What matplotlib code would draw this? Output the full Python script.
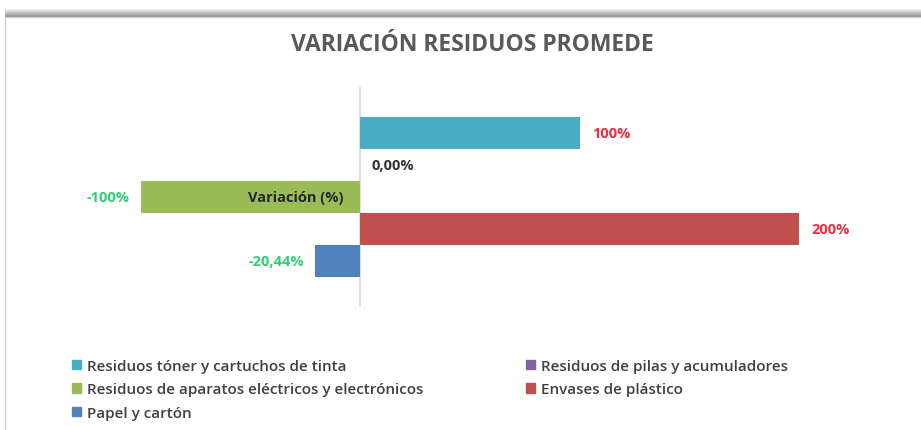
import matplotlib.pyplot as plt
from matplotlib.patches import Rectangle, Patch

plt.rcParams['font.family'] = ['Open Sans', 'DejaVu Sans']

# data
series = ['Residuos tóner y cartuchos de tinta',
          'Residuos de pilas y acumuladores',
          'Residuos de aparatos eléctricos y electrónicos',
          'Envases de plástico',
          'Papel y cartón']
values = [100, 0, -100, 200, -20.44]
labels = ['100%', '0,00%', '-100%', '200%', '-20,44%']
colors = ['#4BACC6', '#8064A2', '#9BBB59', '#C0504D', '#4F81BD']
label_colors = ['#E8303F', '#333333', '#33CC77', '#E8303F', '#33CC77']

W, H = 921, 431
fig = plt.figure(figsize=(W / 100, H / 100), dpi=100)

# chart frame with shadow at the top
for k in range(8):
    fig.patches.append(Rectangle((5 / W, 1 - (11 + k) / H), 1, 1 / H,
                                 transform=fig.transFigure,
                                 color='#808080', alpha=0.15 + 0.1 * k, lw=0))
fig.patches.append(Rectangle((5 / W, -0.01), 1, 1 - 18 / H + 0.01,
                             transform=fig.transFigure, fill=False,
                             edgecolor='#D0D0D0', lw=1))

ax = fig.add_axes([60 / W, 1 - 308 / H, 820 / W, 220 / H])
pos = list(range(len(values)))
ax.barh(pos, values, height=1.0, color=colors)
ax.set_ylim(5.4375, -1.4375)
ax.set_xlim(-136.7, 236.9)
ax.axvline(0, color='#D9D9D9', lw=1.2, zorder=0)
for s in ax.spines.values():
    s.set_visible(False)
ax.set_xticks([])
ax.set_yticks([])

for p, v, lab, c in zip(pos, values, labels, label_colors):
    if v > 0:
        ax.annotate(lab, (v, p), xytext=(9, 0), textcoords='offset points',
                    ha='left', va='center', color=c, fontsize=10.5, fontweight='bold')
    elif v < 0:
        ax.annotate(lab, (v, p), xytext=(-8, 0), textcoords='offset points',
                    ha='right', va='center', color=c, fontsize=10.5, fontweight='bold')
    else:
        ax.annotate(lab, (0, p), xytext=(8, 0), textcoords='offset points',
                    ha='left', va='center', color=c, fontsize=10.5, fontweight='bold')

# category axis label
ax.annotate('Variación (%)', (0, 2), xytext=(-12, 0), textcoords='offset points',
            ha='right', va='center', color='#262626', fontsize=10.5, fontweight='bold')

fig.text(472 / W, 1 - 45 / H, 'VARIACIÓN RESIDUOS PROMEDE', ha='center', va='center',
         fontsize=16.5, color='#595959', fontweight='bold')

# legend in two columns
handles = [Patch(color=c) for c in colors]
legend_kw = dict(loc='upper left', frameon=False, prop={'size': 11, 'weight': 'semibold'},
                 handlelength=0.6, handleheight=0.6, handletextpad=0.4,
                 labelspacing=0.62, labelcolor='#404040', borderaxespad=0, borderpad=0)
leg1 = fig.legend([handles[i] for i in (0, 2, 4)], [series[i] for i in (0, 2, 4)],
                  bbox_to_anchor=(72 / W, 1 - 360 / H), **legend_kw)
leg2 = fig.legend([handles[i] for i in (1, 3)], [series[i] for i in (1, 3)],
                  bbox_to_anchor=(526 / W, 1 - 360 / H), **legend_kw)

fig.savefig('out.png', dpi=100)
